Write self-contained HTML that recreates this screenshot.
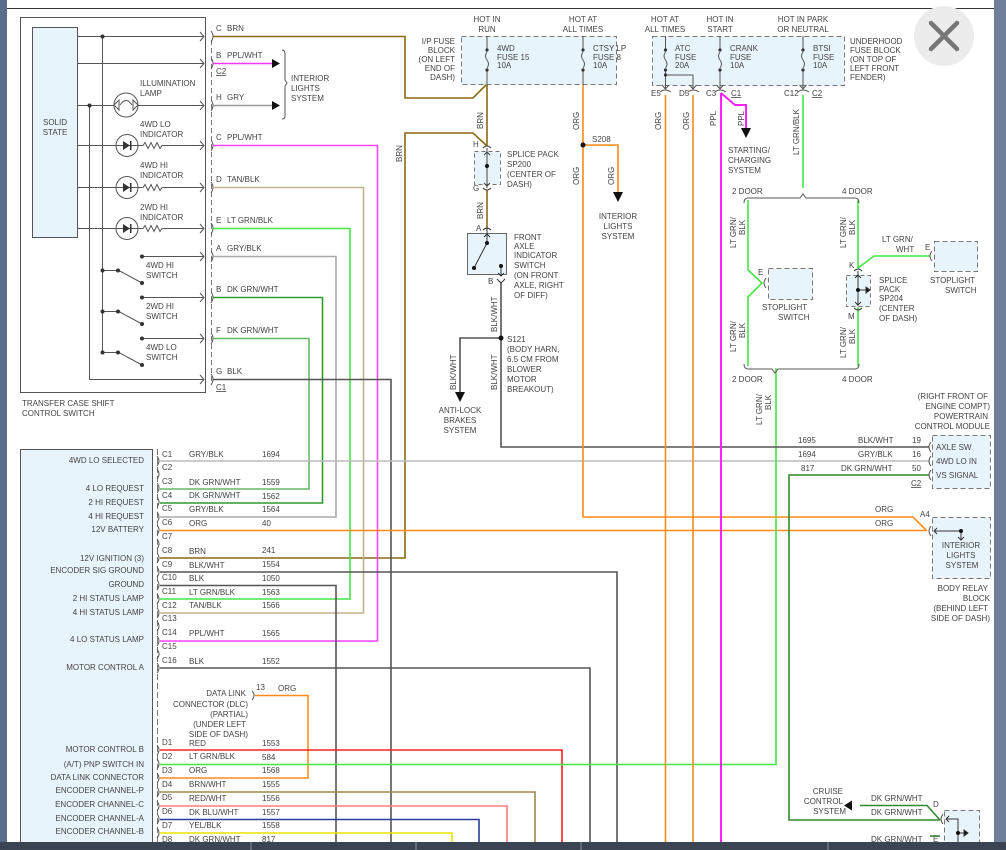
<!DOCTYPE html>
<html><head><meta charset="utf-8"><style>
html,body{margin:0;padding:0;background:#fff;}
svg{display:block;}
text{font-family:"Liberation Sans",sans-serif;font-size:8px;fill:#444;}
</style></head><body>
<svg width="1006" height="850" viewBox="0 0 1006 850" xmlns="http://www.w3.org/2000/svg">
<!-- frame -->
<rect x="0" y="0" width="1006" height="850" fill="#fff"/>
<rect x="0" y="0" width="7" height="850" fill="#5a6e8a"/>
<line x1="7" y1="8.5" x2="994" y2="8.5" stroke="#333" stroke-width="1"/>
<rect x="994" y="0" width="12" height="850" fill="#6d7f99"/>

<circle cx="944" cy="36" r="30" fill="#ececec"/>
<g stroke="#777" stroke-width="4.5" stroke-linecap="round"><line x1="931" y1="23" x2="957" y2="49"/><line x1="957" y1="23" x2="931" y2="49"/></g>

<!-- ====== TRANSFER CASE SHIFT CONTROL SWITCH ====== -->
<rect x="20.5" y="17.5" width="185" height="375" fill="none" stroke="#555"/>
<rect x="32.5" y="27.5" width="45" height="210" fill="#e8f4fc" stroke="#555"/>
<text x="55" y="125" text-anchor="middle">SOLID</text><text x="55" y="135" text-anchor="middle">STATE</text>
<text x="22" y="406">TRANSFER CASE SHIFT</text><text x="22" y="416">CONTROL SWITCH</text>
<g stroke="#555" fill="none" stroke-width="1">
<line x1="77" y1="36.5" x2="204" y2="36.5"/>
<line x1="77" y1="63.5" x2="204" y2="63.5"/>
<line x1="77" y1="105.5" x2="114" y2="105.5"/><line x1="138" y1="105.5" x2="204" y2="105.5"/>
<line x1="77" y1="145.5" x2="204" y2="145.5"/>
<line x1="77" y1="187.5" x2="204" y2="187.5"/>
<line x1="77" y1="228.5" x2="204" y2="228.5"/>
<line x1="102.5" y1="36" x2="102.5" y2="352"/>
<line x1="89.5" y1="105" x2="89.5" y2="379.5"/>
<line x1="89" y1="379.5" x2="204" y2="379.5"/>
<line x1="142" y1="256.5" x2="204" y2="256.5"/>
<line x1="142" y1="297.5" x2="204" y2="297.5"/>
<line x1="142" y1="338.5" x2="204" y2="338.5"/>
<line x1="102" y1="270.5" x2="118" y2="270.5"/><line x1="118" y1="270" x2="142" y2="283"/>
<line x1="102" y1="311.5" x2="118" y2="311.5"/><line x1="118" y1="311" x2="142" y2="324"/>
<line x1="102" y1="352.5" x2="118" y2="352.5"/><line x1="118" y1="352" x2="142" y2="365"/>
<path d="M200 32 L204 36.5 L200 41 M200 59 L204 63.5 L200 68 M200 101 L204 105.5 L200 110 M200 141 L204 145.5 L200 150 M200 183 L204 187.5 L200 192 M200 224 L204 228.5 L200 233 M200 252 L204 256.5 L200 261 M200 293 L204 297.5 L200 302 M200 334 L204 338.5 L200 343 M200 375 L204 379.5 L200 384"/>
<circle cx="126" cy="105" r="12"/>
<path d="M114 105 L119 100 L119 110 Z M138 105 L133 100 L133 110 Z"/>
<path d="M120 105 Q126 96 132 105"/>
<circle cx="127" cy="145.5" r="11"/><circle cx="127" cy="187.5" r="11"/><circle cx="127" cy="228.5" r="11"/>
<path d="M143 145.5 l2 -3 l3 6 l3 -6 l3 6 l3 -6 l3 6 l2 -3 M143 187.5 l2 -3 l3 6 l3 -6 l3 6 l3 -6 l3 6 l2 -3 M143 228.5 l2 -3 l3 6 l3 -6 l3 6 l3 -6 l3 6 l2 -3" stroke="#fff" stroke-width="3"/>
<path d="M143 145.5 l2 -3 l3 6 l3 -6 l3 6 l3 -6 l3 6 l2 -3 M143 187.5 l2 -3 l3 6 l3 -6 l3 6 l3 -6 l3 6 l2 -3 M143 228.5 l2 -3 l3 6 l3 -6 l3 6 l3 -6 l3 6 l2 -3"/>
</g>
<g fill="#333">
<path d="M123 141 L123 150 L130 145.5 Z M123 183 L123 192 L130 187.5 Z M123 224 L123 233 L130 228.5 Z"/>
<rect x="130" y="141" width="1.5" height="9"/><rect x="130" y="183" width="1.5" height="9"/><rect x="130" y="224" width="1.5" height="9"/>
<circle cx="102.5" cy="36.5" r="2"/><circle cx="89.5" cy="105.5" r="2"/>
<circle cx="142" cy="256.5" r="2"/><circle cx="142" cy="297.5" r="2"/><circle cx="142" cy="338.5" r="2"/>
<circle cx="102.5" cy="270.5" r="2"/><circle cx="118" cy="270.5" r="2"/><circle cx="142" cy="283" r="2"/>
<circle cx="102.5" cy="311.5" r="2"/><circle cx="118" cy="311.5" r="2"/><circle cx="142" cy="324" r="2"/>
<circle cx="102.5" cy="352.5" r="2"/><circle cx="118" cy="352.5" r="2"/><circle cx="142" cy="365" r="2"/>
</g>
<text x="140" y="86">ILLUMINATION</text><text x="140" y="96">LAMP</text>
<text x="140" y="127">4WD LO</text><text x="140" y="137">INDICATOR</text>
<text x="140" y="168">4WD HI</text><text x="140" y="178">INDICATOR</text>
<text x="140" y="210">2WD HI</text><text x="140" y="220">INDICATOR</text>
<text x="146" y="268">4WD HI</text><text x="146" y="278">SWITCH</text>
<text x="146" y="309">2WD HI</text><text x="146" y="319">SWITCH</text>
<text x="146" y="350">4WD LO</text><text x="146" y="360">SWITCH</text>
<line x1="211.5" y1="40" x2="211.5" y2="384" stroke="#777" stroke-dasharray="5,3"/>
<g fill="none" stroke="#555"><path d="M211 31 q4 5 0 11 M211 58 q4 5 0 11 M211 100 q4 5 0 11 M211 140 q4 5 0 11 M211 182 q4 5 0 11 M211 223 q4 5 0 11 M211 251 q4 5 0 11 M211 292 q4 5 0 11 M211 333 q4 5 0 11 M211 374 q4 5 0 11"/></g>
<text x="216" y="31">C</text><text x="227" y="31">BRN</text>
<text x="216" y="58">B</text><text x="227" y="58">PPL/WHT</text>
<text x="216" y="74" text-decoration="underline">C2</text>
<text x="216" y="100">H</text><text x="227" y="100">GRY</text>
<text x="216" y="140">C</text><text x="227" y="140">PPL/WHT</text>
<text x="216" y="182">D</text><text x="227" y="182">TAN/BLK</text>
<text x="216" y="223">E</text><text x="227" y="223">LT GRN/BLK</text>
<text x="216" y="251">A</text><text x="227" y="251">GRY/BLK</text>
<text x="216" y="292">B</text><text x="227" y="292">DK GRN/WHT</text>
<text x="216" y="333">F</text><text x="227" y="333">DK GRN/WHT</text>
<text x="216" y="374">G</text><text x="227" y="374">BLK</text>
<text x="216" y="390" text-decoration="underline">C1</text>
<line x1="213" y1="63.5" x2="272" y2="63.5" stroke="#ff33ff" stroke-width="1.5"/>
<path d="M272 59 L280 63.5 L272 68 Z" fill="#111"/>
<line x1="213" y1="105.5" x2="272" y2="105.5" stroke="#999" stroke-width="1.5"/>
<path d="M272 101 L280 105.5 L272 110 Z" fill="#111"/>
<path d="M282 50 q3 0 3 4 l0 26 l2 3 l-2 3 l0 30 q0 3 -3 3" fill="none" stroke="#555"/>
<text x="291" y="81">INTERIOR</text><text x="291" y="91">LIGHTS</text><text x="291" y="101">SYSTEM</text>

<!-- ====== TCCM bottom-left ====== -->
<rect x="20.5" y="449.5" width="132" height="395" fill="#e8f4fc" stroke="#555"/>
<line x1="157.5" y1="449" x2="157.5" y2="842" stroke="#777" stroke-dasharray="6,3"/>
<g text-anchor="end">
<text x="144" y="463">4WD LO SELECTED</text>
<text x="144" y="491">4 LO REQUEST</text>
<text x="144" y="505">2 HI REQUEST</text>
<text x="144" y="519">4 HI REQUEST</text>
<text x="144" y="532">12V BATTERY</text>
<text x="144" y="561">12V IGNITION (3)</text>
<text x="144" y="573">ENCODER SIG GROUND</text>
<text x="144" y="587">GROUND</text>
<text x="144" y="601">2 HI STATUS LAMP</text>
<text x="144" y="615">4 HI STATUS LAMP</text>
<text x="144" y="642">4 LO STATUS LAMP</text>
<text x="144" y="670">MOTOR CONTROL A</text>
<text x="144" y="752">MOTOR CONTROL B</text>
<text x="144" y="767">(A/T) PNP SWITCH IN</text>
<text x="144" y="780">DATA LINK CONNECTOR</text>
<text x="144" y="793">ENCODER CHANNEL-P</text>
<text x="144" y="807">ENCODER CHANNEL-C</text>
<text x="144" y="821">ENCODER CHANNEL-A</text>
<text x="144" y="834">ENCODER CHANNEL-B</text>
</g>
<g>
<text x="162" y="457">C1</text><text x="189" y="457">GRY/BLK</text><text x="262" y="457">1694</text>
<text x="162" y="470">C2</text>
<text x="162" y="484">C3</text><text x="189" y="485">DK GRN/WHT</text><text x="262" y="485">1559</text>
<text x="162" y="498">C4</text><text x="189" y="498">DK GRN/WHT</text><text x="262" y="499">1562</text>
<text x="162" y="511">C5</text><text x="189" y="512">GRY/BLK</text><text x="262" y="512">1564</text>
<text x="162" y="525">C6</text><text x="189" y="526">ORG</text><text x="262" y="526">40</text>
<text x="162" y="539">C7</text>
<text x="162" y="553">C8</text><text x="189" y="554">BRN</text><text x="262" y="553">241</text>
<text x="162" y="567">C9</text><text x="189" y="568">BLK/WHT</text><text x="262" y="567">1554</text>
<text x="162" y="580">C10</text><text x="189" y="581">BLK</text><text x="262" y="581">1050</text>
<text x="162" y="594">C11</text><text x="189" y="595">LT GRN/BLK</text><text x="262" y="595">1563</text>
<text x="162" y="608">C12</text><text x="189" y="608">TAN/BLK</text><text x="262" y="608">1566</text>
<text x="162" y="621">C13</text>
<text x="162" y="635">C14</text><text x="189" y="636">PPL/WHT</text><text x="262" y="636">1565</text>
<text x="162" y="649">C15</text>
<text x="162" y="663">C16</text><text x="189" y="664">BLK</text><text x="262" y="664">1552</text>
<text x="162" y="745">D1</text><text x="189" y="746">RED</text><text x="262" y="746">1553</text>
<text x="162" y="759">D2</text><text x="189" y="759">LT GRN/BLK</text><text x="262" y="760">584</text>
<text x="162" y="773">D3</text><text x="189" y="773">ORG</text><text x="262" y="773">1568</text>
<text x="162" y="787">D4</text><text x="189" y="787">BRN/WHT</text><text x="262" y="787">1555</text>
<text x="162" y="800">D5</text><text x="189" y="801">RED/WHT</text><text x="262" y="801">1556</text>
<text x="162" y="814">D6</text><text x="189" y="815">DK BLU/WHT</text><text x="262" y="815">1557</text>
<text x="162" y="828">D7</text><text x="189" y="828">YEL/BLK</text><text x="262" y="828">1558</text>
<text x="162" y="842">D8</text><text x="189" y="842">DK GRN/WHT</text><text x="262" y="842">817</text>
</g>
<g fill="none" stroke="#555"><path d="M157 456 q4 5 0 10 M157 483 q4 5 0 10 M157 497 q4 5 0 10 M157 512 q4 5 0 10 M157 525 q4 5 0 10 M157 553 q4 5 0 10 M157 567 q4 5 0 10 M157 580 q4 5 0 10 M157 594 q4 5 0 10 M157 608 q4 5 0 10 M157 636 q4 5 0 10 M157 663 q4 5 0 10 M157 745 q4 5 0 10 M157 759 q4 5 0 10 M157 773 q4 5 0 10 M157 787 q4 5 0 10 M157 801 q4 5 0 10 M157 814 q4 5 0 10 M157 828 q4 5 0 10 M157 469 q4 5 0 10 M157 539 q4 5 0 10 M157 621 q4 5 0 10 M157 649 q4 5 0 10"/></g>
<g text-anchor="end">
<text x="246" y="696">DATA LINK</text>
<text x="248" y="707">CONNECTOR (DLC)</text><text x="248" y="717">(PARTIAL)</text><text x="246" y="727">(UNDER LEFT</text><text x="248" y="737">SIDE OF DASH)</text>
</g>
<text x="256" y="690">13</text><text x="278" y="691">ORG</text>
<path d="M252 691 q4 4 0 9" fill="none" stroke="#555"/>

<!-- ====== WIRES ====== -->
<g fill="none" stroke-width="1.6">
<path d="M213 36.5 H405 V98 H473 L487 84" stroke="#8b6914"/>
<path d="M160 558 H405 V133 H473 L487 146" stroke="#8b6914"/>
<path d="M487 84 V146 M487 190 V229" stroke="#8b6914"/>
<path d="M213 145.5 H377.5 V641 H160" stroke="#ff44ff"/>
<path d="M213 187.5 H363.5 V613 H160" stroke="#c2b48c"/>
<path d="M213 228.5 H350 V599 H160" stroke="#44e544"/>
<path d="M213 256.5 H336 V517 H160" stroke="#aaa"/>
<path d="M213 297.5 H322.5 V503 H160" stroke="#2e9a2e"/>
<path d="M213 338.5 H309 V489 H160" stroke="#66b866"/>
<path d="M213 379.5 H391 V842" stroke="#555"/>
<path d="M160 461 H929" stroke="#bbb"/>
<path d="M160 530.5 H927" stroke="#ff8c1a"/>
<path d="M160 572 H617 V842" stroke="#555"/>
<path d="M160 585.5 H336 V842" stroke="#555"/>
<path d="M160 668 H590 V842" stroke="#555"/>
<path d="M255 695.5 H308 V778 H160" stroke="#ff8c1a"/>
<path d="M160 750 H562 V842" stroke="#ff2020"/>
<path d="M160 764.5 H776 V368" stroke="#44e544"/>
<path d="M160 792 H535 V842" stroke="#a08848"/>
<path d="M160 806 H507 V842" stroke="#ff7b7b"/>
<path d="M160 819.5 H479 V842" stroke="#2a3f9a"/>
<path d="M160 833 H452 V842" stroke="#e6e600"/>
<path d="M160 847 H430" stroke="#3a8a3a"/>
<path d="M501 282 V447 H929" stroke="#555"/>
<path d="M501 338 H460 V392" stroke="#555"/>
<path d="M583 85 V517 H913 L927 531" stroke="#ff8c1a"/>
<path d="M583 145 H618 V192" stroke="#ff8c1a"/>
<path d="M665.5 95 V842 M693 95 V842" stroke="#ff8c1a"/>
<path d="M721 93 V842" stroke="#ff22ff" stroke-width="2"/>
<path d="M721 93 L735 105 H746 V128" stroke="#ff22ff" stroke-width="2"/>
<path d="M803 95 V188" stroke="#44e544"/>
<path d="M748 200 V270 L762 283 L748 297 V366" stroke="#44e544"/>
<path d="M858 200 V268 M858 307 V366" stroke="#44e544"/>
<path d="M858 268 L874 256 H930" stroke="#44e544"/>
<path d="M929 475 H789 V820 H940" stroke="#2e8b2e"/>
<path d="M860 805.5 H927 L940 820" stroke="#2e8b2e"/>
<path d="M940 836 H930" stroke="#2e8b2e"/>
</g>
<g fill="#111">
<path d="M455 392 L465 392 L460 402 Z"/>
<path d="M613 192 L623 192 L618 202 Z"/>
<path d="M741 128 L751 128 L746 138 Z"/>
<path d="M852 800.5 L852 810.5 L844 805.5 Z"/>
<circle cx="501" cy="338" r="2.5"/><circle cx="583" cy="145" r="2.5"/>
</g>
<path d="M744 203 q0 -5 4 -5 H800 l3 -4 l3 4 H855 q4 0 4 5" fill="none" stroke="#555"/>
<path d="M744 364 q0 5 4 5 H772 l3 4 l3 -4 H855 q4 0 4 -5" fill="none" stroke="#555"/>
<text x="732" y="194">2 DOOR</text><text x="842" y="194">4 DOOR</text>
<text x="732" y="382">2 DOOR</text><text x="842" y="382">4 DOOR</text>

<rect x="461.5" y="36.5" width="155" height="48" fill="#e8f4fc" stroke="#777" stroke-dasharray="5,3"/>
<rect x="652.5" y="36.5" width="192" height="49" fill="#e8f4fc" stroke="#777" stroke-dasharray="5,3"/>
<g stroke="#555" fill="none">
<path d="M487 36 V50 M487 70 V85 M487 52 q-3 4 0 8 q3 4 0 8"/>
<path d="M583 36 V50 M583 70 V85 M583 52 q-3 4 0 8 q3 4 0 8"/>
<path d="M665.5 36 V50 M665.5 70 V88 M665.5 52 q-3 4 0 8 q3 4 0 8 M665.5 75 H693 V88"/>
<path d="M720 36 V50 M720 70 V88 M720 52 q-3 4 0 8 q3 4 0 8"/>
<path d="M803 36 V50 M803 70 V88 M803 52 q-3 4 0 8 q3 4 0 8"/>
<path d="M662 85 l3.5 4 l3.5 -4 M689.5 85 l3.5 4 l3.5 -4 M716.5 85 l3.5 4 l3.5 -4 M799.5 85 l3.5 4 l3.5 -4"/>
<path d="M660 92 q5 -4 11 0 M688 92 q5 -4 11 0 M715 92 q5 -4 11 0 M798 92 q5 -4 11 0"/>
</g>
<g fill="#333"><circle cx="487" cy="50" r="1.6"/><circle cx="487" cy="70" r="1.6"/><circle cx="583" cy="50" r="1.6"/><circle cx="583" cy="70" r="1.6"/><circle cx="665.5" cy="50" r="1.6"/><circle cx="665.5" cy="70" r="1.6"/><circle cx="665.5" cy="75" r="1.6"/><circle cx="720" cy="50" r="1.6"/><circle cx="720" cy="70" r="1.6"/><circle cx="803" cy="50" r="1.6"/><circle cx="803" cy="70" r="1.6"/></g>
<g text-anchor="middle">
<text x="487" y="22">HOT IN</text><text x="487" y="32">RUN</text>
<text x="583" y="22">HOT AT</text><text x="583" y="32">ALL TIMES</text>
<text x="665" y="22">HOT AT</text><text x="665" y="32">ALL TIMES</text>
<text x="720" y="22">HOT IN</text><text x="720" y="32">START</text>
<text x="803" y="22">HOT IN PARK</text><text x="803" y="32">OR NEUTRAL</text>
</g>
<g text-anchor="end"><text x="455" y="44">I/P FUSE</text><text x="455" y="53">BLOCK</text><text x="455" y="62">(ON LEFT</text><text x="455" y="71">END OF</text><text x="455" y="80">DASH)</text></g>
<text x="497" y="51">4WD</text><text x="497" y="60">FUSE 15</text><text x="497" y="68">10A</text>
<text x="593" y="51">CTSY LP</text><text x="593" y="60">FUSE 8</text><text x="593" y="68">10A</text>
<text x="675" y="51">ATC</text><text x="675" y="60">FUSE</text><text x="675" y="68">20A</text>
<text x="730" y="51">CRANK</text><text x="730" y="60">FUSE</text><text x="730" y="68">10A</text>
<text x="813" y="51">BTSI</text><text x="813" y="60">FUSE</text><text x="813" y="68">10A</text>
<text x="850" y="44">UNDERHOOD</text><text x="850" y="53">FUSE BLOCK</text><text x="850" y="62">(ON TOP OF</text><text x="850" y="71">LEFT FRONT</text><text x="850" y="80">FENDER)</text>
<text x="651" y="96">E5</text><text x="679" y="96">D5</text><text x="706" y="96">C3</text><text x="731" y="96" text-decoration="underline">C1</text><text x="784" y="96">C12</text><text x="812" y="96" text-decoration="underline">C2</text>
<text x="728" y="153">STARTING/</text><text x="728" y="163">CHARGING</text><text x="728" y="173">SYSTEM</text>
<text x="592" y="142">S208</text>
<text x="618" y="219" text-anchor="middle">INTERIOR</text><text x="618" y="229" text-anchor="middle">LIGHTS</text><text x="618" y="239" text-anchor="middle">SYSTEM</text>

<g>
<text transform="translate(402,162) rotate(-90)">BRN</text>
<text transform="translate(483,129) rotate(-90)">BRN</text>
<text transform="translate(483,219) rotate(-90)">BRN</text>
<text transform="translate(579,130) rotate(-90)">ORG</text>
<text transform="translate(579,185) rotate(-90)">ORG</text>
<text transform="translate(614,185) rotate(-90)">ORG</text>
<text transform="translate(661,130) rotate(-90)">ORG</text>
<text transform="translate(689,130) rotate(-90)">ORG</text>
<text transform="translate(716,126) rotate(-90)">PPL</text>
<text transform="translate(744,126) rotate(-90)">PPL</text>
<text transform="translate(799,155) rotate(-90)">LT GRN/BLK</text>
<text transform="translate(497,332) rotate(-90)">BLK/WHT</text>
<text transform="translate(456,390) rotate(-90)">BLK/WHT</text>
<text transform="translate(497,390) rotate(-90)">BLK/WHT</text>
<text transform="translate(736,248) rotate(-90)">LT GRN/</text><text transform="translate(745,235) rotate(-90)">BLK</text>
<text transform="translate(846,248) rotate(-90)">LT GRN/</text><text transform="translate(855,235) rotate(-90)">BLK</text>
<text transform="translate(736,352) rotate(-90)">LT GRN/</text><text transform="translate(745,338) rotate(-90)">BLK</text>
<text transform="translate(846,358) rotate(-90)">LT GRN/</text><text transform="translate(855,344) rotate(-90)">BLK</text>
<text transform="translate(762,425) rotate(-90)">LT GRN/</text><text transform="translate(771,410) rotate(-90)">BLK</text>
</g>

<rect x="474.5" y="151.5" width="26" height="33" fill="#e8f4fc" stroke="#777" stroke-dasharray="4,3"/>
<g stroke="#444" fill="none"><path d="M487 148 V188 M484 155 l3 -3 l3 3 M484 183 l3 3 l3 -3 M483 148 q4 -4 8 0 M483 188 q4 4 8 0"/></g>
<circle cx="487" cy="166" r="2" fill="#111"/>
<text x="473" y="147">H</text><text x="473" y="191">G</text>
<text x="507" y="157">SPLICE PACK</text><text x="507" y="167">SP200</text><text x="507" y="177">(CENTER OF</text><text x="507" y="187">DASH)</text>
<rect x="467.5" y="233.5" width="39" height="41" fill="#e8f4fc" stroke="#666"/>
<g stroke="#333" fill="none"><path d="M487 229 V243 M484 237 l3 -3 l3 3 M483 230 q4 -4 8 0 M487 243 L474 268 M501 266 V276 M498 273 l3 3 l3 -3 M497 279 l4 4 l4 -4"/></g>
<g fill="#111"><circle cx="487" cy="243" r="2"/><circle cx="474" cy="268" r="2"/><circle cx="501" cy="266" r="2"/></g>
<text x="476" y="231">A</text><text x="488" y="284">B</text>
<text x="514" y="240">FRONT</text><text x="514" y="249">AXLE</text><text x="514" y="258">INDICATOR</text><text x="514" y="268">SWITCH</text><text x="514" y="278">(ON FRONT</text><text x="514" y="288">AXLE, RIGHT</text><text x="514" y="298">OF DIFF)</text>
<text x="507" y="342">S121</text><text x="507" y="352">(BODY HARN,</text><text x="507" y="362">6.5 CM FROM</text><text x="507" y="372">BLOWER</text><text x="507" y="382">MOTOR</text><text x="507" y="392">BREAKOUT)</text>
<text x="460" y="413" text-anchor="middle">ANTI-LOCK</text><text x="460" y="423" text-anchor="middle">BRAKES</text><text x="460" y="433" text-anchor="middle">SYSTEM</text>

<rect x="768.5" y="268.5" width="44" height="31" fill="#e8f4fc" stroke="#777" stroke-dasharray="5,3"/>
<path d="M766 278 q-4 5 0 10" fill="none" stroke="#555"/>
<text x="758" y="275">E</text>
<text x="762" y="310">STOPLIGHT</text><text x="778" y="320">SWITCH</text>
<rect x="934.5" y="241.5" width="43" height="30" fill="#e8f4fc" stroke="#777" stroke-dasharray="5,3"/>
<path d="M932 251 q-4 5 0 10" fill="none" stroke="#555"/>
<text x="925" y="250">E</text>
<text x="882" y="242">LT GRN/</text><text x="896" y="252">WHT</text>
<text x="930" y="283">STOPLIGHT</text><text x="945" y="293">SWITCH</text>
<rect x="846.5" y="275.5" width="24" height="31" fill="#e8f4fc" stroke="#777" stroke-dasharray="4,3"/>
<g stroke="#333" fill="none"><path d="M858 271 V306 M855 278 l3 -3 l3 3 M855 302 l3 3 l3 -3 M854 271 q4 -4 8 0 M854 308 q4 4 8 0 M858 290 H866"/><path d="M866 287 L870 290 L866 293 Z" fill="#111"/></g>
<circle cx="858" cy="290" r="2" fill="#111"/>
<text x="849" y="268">K</text><text x="848" y="319">M</text>
<text x="879" y="283">SPLICE</text><text x="879" y="292">PACK</text><text x="879" y="301">SP204</text><text x="879" y="311">(CENTER</text><text x="879" y="321">OF DASH)</text>

<g text-anchor="end"><text x="988" y="399">(RIGHT FRONT OF</text><text x="990" y="409">ENGINE COMPT)</text><text x="988" y="419">POWERTRAIN</text><text x="990" y="429">CONTROL MODULE</text></g>
<rect x="932.5" y="435.5" width="58" height="53" fill="#e8f4fc" stroke="#777" stroke-dasharray="5,3"/>
<text x="936" y="450">AXLE SW</text><text x="936" y="464">4WD LO IN</text><text x="936" y="478">VS SIGNAL</text>
<g fill="none" stroke="#555"><path d="M931 442 q-4 5 0 10 M931 456 q-4 5 0 10 M931 470 q-4 5 0 10"/></g>
<text x="798" y="443">1695</text><text x="858" y="443">BLK/WHT</text><text x="912" y="443">19</text>
<text x="798" y="457">1694</text><text x="858" y="457">GRY/BLK</text><text x="912" y="457">16</text>
<text x="801" y="471">817</text><text x="841" y="471">DK GRN/WHT</text><text x="912" y="471">50</text>
<text x="911" y="486" text-decoration="underline">C2</text>
<text x="875" y="512">ORG</text><text x="875" y="526">ORG</text><text x="920" y="517">A4</text>
<rect x="932.5" y="517.5" width="58" height="61" fill="#e8f4fc" stroke="#777" stroke-dasharray="5,3"/>
<path d="M931 526 q-4 5 0 10" fill="none" stroke="#555"/>
<g stroke="#333" fill="none"><path d="M934 531 H961 V540 M937 528 l-3 3 l3 3 M958 537 l3 3 l3 -3"/></g>
<circle cx="961" cy="531" r="2" fill="#111"/>
<g text-anchor="middle"><text x="961" y="548">INTERIOR</text><text x="961" y="558">LIGHTS</text><text x="962" y="568">SYSTEM</text></g>
<g text-anchor="end"><text x="988" y="591">BODY RELAY</text><text x="990" y="601">BLOCK</text><text x="988" y="611">(BEHIND LEFT</text><text x="990" y="621">SIDE OF DASH)</text></g>
<g text-anchor="end"><text x="843" y="794">CRUISE</text><text x="843" y="804">CONTROL</text><text x="846" y="814">SYSTEM</text></g>
<text x="871" y="801">DK GRN/WHT</text><text x="871" y="815">DK GRN/WHT</text><text x="933" y="807">D</text>
<text x="871" y="842">DK GRN/WHT</text><text x="933" y="842">E</text>
<rect x="944.5" y="810.5" width="35" height="40" fill="#e8f4fc" stroke="#777" stroke-dasharray="5,3"/>
<path d="M943 814 q-4 5 0 10" fill="none" stroke="#555"/>
<g stroke="#333" fill="none"><path d="M946 819 H958 V842 M949 816 l-3 3 l3 3 M958 833 H966"/><path d="M964 830 L968 833 L964 836 Z" fill="#111"/></g>
<circle cx="958" cy="833" r="2" fill="#111"/>
<rect x="0" y="842" width="1006" height="8" fill="#3b4452"/>
<g stroke="#8a95a5" stroke-width="1"><line x1="251" y1="842" x2="251" y2="850"/><line x1="416" y1="842" x2="416" y2="850"/><line x1="581" y1="842" x2="581" y2="850"/><line x1="828" y1="842" x2="828" y2="850"/></g>
</svg>
</body></html>
